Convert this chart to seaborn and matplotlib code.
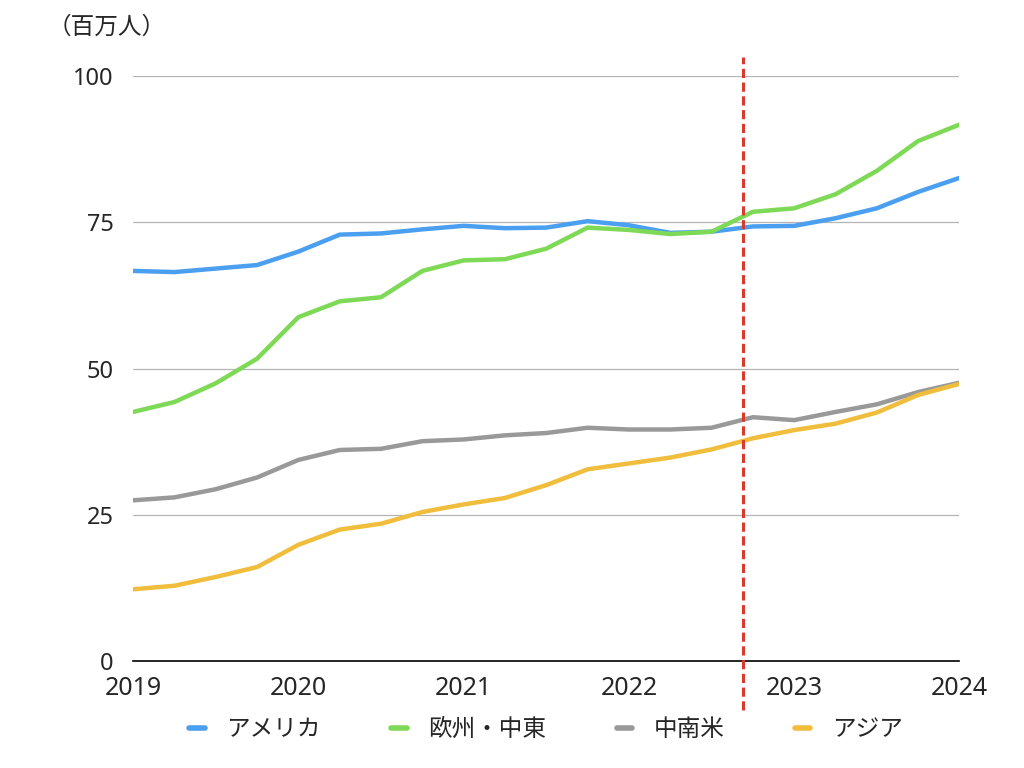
import matplotlib
matplotlib.use('Agg')
import matplotlib.pyplot as plt
import pandas as pd
import seaborn as sns

# quarterly values, 2019Q1 .. 2024Q1 (millions of people)
quarters = list(range(21))
america = [66.7, 66.5, 67.1, 67.7, 70.0, 72.9, 73.1, 73.8, 74.4, 74.0, 74.1,
           75.2, 74.5, 73.2, 73.4, 74.3, 74.4, 75.7, 77.4, 80.2, 82.6]
europe = [42.6, 44.3, 47.5, 51.7, 58.8, 61.5, 62.2, 66.7, 68.5, 68.7, 70.5,
          74.1, 73.7, 73.0, 73.4, 76.8, 77.4, 79.8, 83.8, 88.9, 91.7]
latam = [27.5, 28.0, 29.4, 31.4, 34.4, 36.1, 36.3, 37.6, 37.9, 38.6, 39.0,
         39.9, 39.6, 39.6, 39.9, 41.7, 41.2, 42.6, 43.9, 46.0, 47.6]
asia = [12.3, 12.9, 14.4, 16.1, 19.9, 22.5, 23.5, 25.5, 26.8, 27.9, 30.1,
        32.8, 33.8, 34.8, 36.2, 38.1, 39.5, 40.6, 42.5, 45.5, 47.4]
series_names = ['アメリカ', '欧州・中東', '中南米', 'アジア']
colors = ['#4A9FF0', '#7ED957', '#999999', '#F0BE3C']
year_labels = ['2019', '2020', '2021', '2022', '2023', '2024']
year_ticks = [0, 4, 8, 12, 16, 20]
y_ticks = [0, 25, 50, 75, 100]
marker_x = 14.75  # red dashed divider

rows = []
for name, vals in zip(series_names, [america, europe, latam, asia]):
    for q, v in zip(quarters, vals):
        rows.append({'q': q, 'value': v, 'region': name})
df = pd.DataFrame(rows)

sns.set_style('white')
plt.rcParams['font.family'] = ['Noto Sans CJK JP', 'DejaVu Sans']

fig = plt.figure(figsize=(10.24, 7.68), dpi=100)
ax = fig.add_axes([0.130, 0.139, 0.807, 0.762])

sns.lineplot(data=df, x='q', y='value', hue='region', palette=colors,
             hue_order=series_names, linewidth=3.2, ax=ax, legend=True)

ax.set_xlim(0, 20)
ax.set_ylim(0, 100)
ax.set_yticks(y_ticks)
ax.set_yticklabels([str(t) for t in y_ticks], fontsize=17, family='Noto Sans')
ax.set_xticks(year_ticks)
ax.set_xticklabels(year_labels, fontsize=18, family='Noto Sans')
ax.tick_params(axis='both', length=0)
ax.tick_params(axis='y', pad=14)
ax.tick_params(axis='x', pad=10.5)
for t in ax.get_yticks()[1:]:
    ax.axhline(t, color='#b5b5b5', lw=0.9, zorder=0)
for s in ['top', 'right', 'left']:
    ax.spines[s].set_visible(False)
ax.spines['bottom'].set_color('black')
ax.spines['bottom'].set_linewidth(1.2)
ax.set_xlabel('')
ax.set_ylabel('')

ax.vlines(marker_x, -8.4, 103.2, colors='#D93A2B', linestyles=(0, (3, 1.5)),
          linewidth=2.2, clip_on=False, zorder=5)

fig.text(0.046, 0.965, '（百万人）', fontsize=17, ha='left', va='center')

handles, labels = ax.get_legend_handles_labels()
ax.get_legend().remove()
for h in handles:
    h.set_linewidth(4)
fig.legend(handles, labels, loc='center', bbox_to_anchor=(546 / 1024, 0.050),
           ncol=4, frameon=False, fontsize=17, handlelength=0.65,
           handletextpad=0.9, columnspacing=3.0)

fig.savefig('out.png', dpi=100)
